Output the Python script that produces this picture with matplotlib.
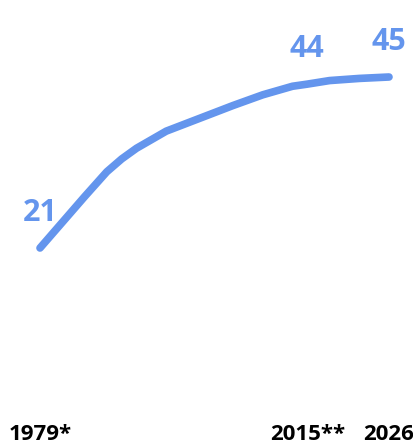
import matplotlib
matplotlib.use("Agg")
import matplotlib.pyplot as plt

years = [1979, 1982, 1985, 1988, 1990, 1992, 1996, 2001, 2005, 2009, 2013, 2015, 2018, 2022, 2026]
values = [21, 24.6, 28.2, 31.7, 33.5, 35.0, 37.4, 39.4, 41.0, 42.5, 43.7, 44, 44.5, 44.8, 45]
label_years = [1979, 2015, 2026]
tick_labels = ["1979*", "2015**", "2026"]

COLOR = "#6495ED"
plt.rcParams['font.family'] = ['Open Sans', 'DejaVu Sans']

W, H = 414, 444
fig = plt.figure(figsize=(W / 100, H / 100), dpi=100)
ax = fig.add_axes([40 / W, (H - 248) / H, (389 - 40) / W, (248 - 77) / H])
ax.set_xlim(1979, 2026)
ax.set_ylim(21, 45)
ax.plot(years, values, color=COLOR, lw=5.5, solid_capstyle='round',
        solid_joinstyle='round', clip_on=False)

for y, v in zip(years, values):
    if y in label_years:
        ax.annotate(f"{v:g}", (y, v), xytext=(0, 19.5), textcoords='offset points',
                    ha='center', va='baseline', fontsize=22, fontweight='bold',
                    color=COLOR, annotation_clip=False)

ax.set_xticks(label_years, tick_labels)
ax.tick_params(axis='x', length=0, pad=127, labelsize=16)
for t in ax.get_xticklabels():
    t.set_fontweight('bold')
ax.set_yticks([])
for s in ax.spines.values():
    s.set_visible(False)
ax.patch.set_visible(False)

fig.savefig("out.png", dpi=100)
